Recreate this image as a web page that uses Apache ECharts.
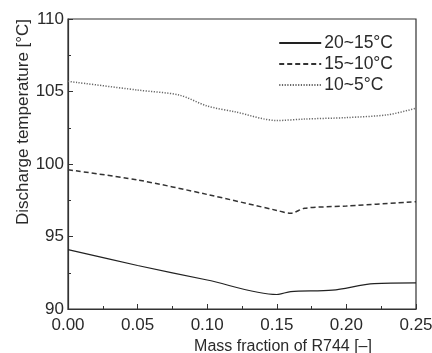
<!DOCTYPE html>
<html>
<head>
<meta charset="utf-8">
<script src="https://cdn.jsdelivr.net/npm/echarts@6/dist/echarts.min.js"></script>
<style>
html, body { margin: 0; padding: 0; background: #fff; }
#main { width: 432px; height: 353px; }
</style>
</head>
<body>
<div id="main"></div>
<script>
// 数据
var names = ['20~15°C', '15~10°C', '10~5°C'];
var xs1 = [0, 0.05, 0.10, 0.15, 0.16, 0.19, 0.22, 0.25];
var ys1 = [94.1, 93.0, 92.0, 91.0, 91.2, 91.3, 91.75, 91.8];
var xs2 = [0, 0.05, 0.10, 0.15, 0.16, 0.17, 0.20, 0.25];
var ys2 = [99.6, 98.9, 97.9, 96.8, 96.6, 96.95, 97.1, 97.4];
var xs3 = [0, 0.05, 0.08, 0.10, 0.12, 0.15, 0.17, 0.20, 0.23, 0.25];
var ys3 = [105.7, 105.1, 104.75, 104.0, 103.6, 103.0, 103.1, 103.2, 103.4, 103.85];

function pairs(xs, ys) {
    var out = [];
    for (var i = 0; i < xs.length; i++) out.push([xs[i], ys[i]]);
    return out;
}

var myChart = echarts.init(document.getElementById('main'));
var txt = '#2a2a2a';
var font = 'Liberation Sans';

option = {
    animation: false,
    backgroundColor: '#fff',
    grid: {
        left: 68, right: 16, top: 19, bottom: 44,
        outerBoundsMode: 'none',
        show: true, borderColor: '#333', borderWidth: 1.2
    },
    legend: {
        orient: 'vertical',
        right: 34, top: 29,
        itemWidth: 42, itemHeight: 12, itemGap: 3,
        itemStyle: { opacity: 0 },
        textStyle: { color: txt, fontSize: 17.5, fontFamily: font, padding: [0, 0, 0, -2] },
        data: names
    },
    xAxis: {
        type: 'value', min: 0, max: 0.25, interval: 0.05,
        name: 'Mass fraction of R744 [–]', nameLocation: 'middle', nameGap: 28,
        nameTextStyle: { color: txt, fontSize: 16, fontFamily: font, padding: [0, 0, 0, 82] },
        axisLine: { lineStyle: { color: '#333', width: 1.2 } },
        axisTick: { inside: true, length: 5, lineStyle: { color: '#333' } },
        minorTick: { show: true, splitNumber: 2, length: 3, lineStyle: { color: '#333' } },
        splitLine: { show: false },
        axisLabel: { color: txt, fontSize: 17, fontFamily: font, margin: 8,
            formatter: function (v) { return v.toFixed(2); } }
    },
    yAxis: {
        type: 'value', min: 90, max: 110, interval: 5,
        name: 'Discharge temperature [°C]', nameLocation: 'middle', nameGap: 36,
        nameMoveOverlap: false,
        nameTextStyle: { color: txt, fontSize: 17, fontFamily: font, padding: [0, 0, 0, 84] },
        axisLine: { lineStyle: { color: '#333', width: 1.2 } },
        axisTick: { inside: true, length: 5, lineStyle: { color: '#333' } },
        minorTick: { show: true, splitNumber: 2, length: 3, lineStyle: { color: '#333' } },
        splitLine: { show: false },
        axisLabel: { color: txt, fontSize: 17, fontFamily: font, margin: 4 }
    },
    series: [
        {
            name: names[0], type: 'line', smooth: 0.3, symbol: 'none',
            data: pairs(xs1, ys1),
            lineStyle: { color: '#222', width: 1.2, type: 'solid' },
            itemStyle: { color: '#222' }
        },
        {
            name: names[1], type: 'line', smooth: 0.3, symbol: 'none',
            data: pairs(xs2, ys2),
            lineStyle: { color: '#333', width: 1.5, type: [5, 3] },
            itemStyle: { color: '#333' }
        },
        {
            name: names[2], type: 'line', smooth: 0.3, symbol: 'none',
            data: pairs(xs3, ys3),
            lineStyle: { color: '#666', width: 1.5, type: [1.2, 1.5] },
            itemStyle: { color: '#666' }
        }
    ]
};

myChart.setOption(option);
</script>
</body>
</html>
